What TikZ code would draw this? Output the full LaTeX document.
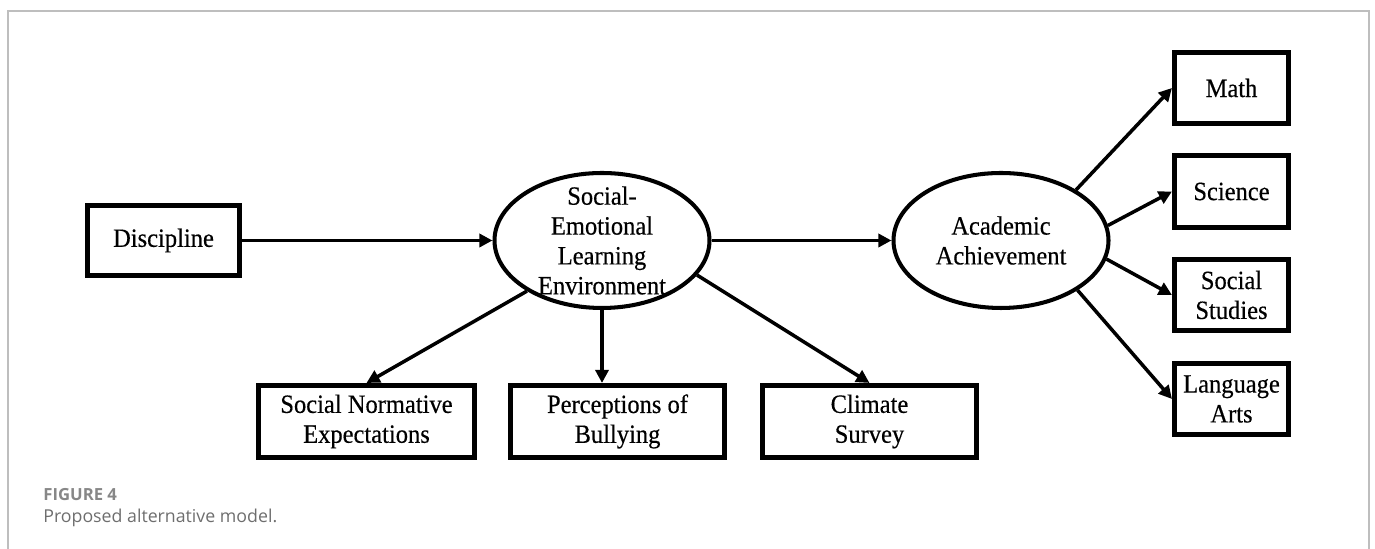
\documentclass[tikz,border=0pt]{standalone}
\usepackage{fontspec}
\setmainfont{Liberation Serif}[FakeStretch=0.93, FakeBold=0.4]
\newfontfamily\captionfont{Open Sans}
\usepackage{xcolor}
\usepackage{tikz}
\usetikzlibrary{shapes,arrows,positioning,calc,arrows.meta}

\definecolor{framegray}{RGB}{190,190,190}
\definecolor{labelgray}{RGB}{135,135,135}
\definecolor{capgray}{RGB}{110,110,110}

\tikzset{
    obsbox/.style={draw, rectangle, line width=2.6pt, align=center, inner sep=2pt},
    latent/.style={draw, ellipse, line width=2.3pt, minimum width=4.3cm, minimum height=2.7cm, inner sep=0pt},
    link/.style={line width=2pt, -{Triangle[length=7.5pt, width=7.5pt]}}
}

\begin{document}
\begin{tikzpicture}[font=\fontsize{15}{17}\selectfont]
    \useasboundingbox (0,0) rectangle (27.5,10.98);
    % Frame
    \draw[framegray, line width=0.8pt] (0.16,0) -- (0.16,10.76) -- (27.38,10.76) -- (27.38,0);

    % Predictor
    \node[obsbox, minimum width=3.05cm, minimum height=1.39cm] (disc) at (3.27,6.17) {Discipline};

    % Latent variables
    \node[latent] (sel) at (12.04,6.17) {};
    \node[align=center] (sel-txt) at (sel) {Social-\\Emotional\\Learning\\Environment};
    \node[latent] (aa) at (20.02,6.17) {};
    \node[align=center] (aa-txt) at (aa) {Academic\\Achievement};

    % Indicators of the learning environment
    \node[obsbox, minimum width=4.33cm, minimum height=1.45cm] (sne) at (7.33,2.55) {Social Normative\\Expectations};
    \node[obsbox, minimum width=4.29cm, minimum height=1.45cm] (bully) at (12.35,2.55) {Perceptions of\\Bullying};
    \node[obsbox, minimum width=4.29cm, minimum height=1.45cm] (clim) at (17.39,2.55) {Climate\\Survey};

    % Indicators of achievement
    \node[obsbox, minimum width=2.29cm, minimum height=1.43cm] (math) at (24.63,9.22) {Math};
    \node[obsbox, minimum width=2.29cm, minimum height=1.43cm] (sci) at (24.63,7.15) {Science};
    \node[obsbox, minimum width=2.29cm, minimum height=1.43cm] (soc) at (24.63,5.08) {Social\\Studies};
    \node[obsbox, minimum width=2.29cm, minimum height=1.43cm] (lang) at (24.63,3.00) {Language\\Arts};

    % Structural paths
    \draw[link] (disc) -- (sel);
    \draw[link] (sel) -- (aa);

    % Loadings
    \draw[link] (sel.-146) -- (sne.north);
    \draw[link] (sel.south) -- (sel.south |- bully.north);
    \draw[link] (sel.-20) -- (clim.north);
    \draw[link] (aa.34) -- (math.west);
    \draw[link] (aa.8) -- (sci.west);
    \draw[link] (aa.-10) -- (soc.west);
    \draw[link] (aa.-33) -- (lang.west);

    % Caption
    \node[anchor=west, inner sep=0pt, text=labelgray, font=\captionfont\bfseries\fontsize{9.5}{11}\selectfont] (fignum) at (0.86,1.08) {FIGURE 4};
    \node[anchor=west, inner sep=0pt, text=capgray, font=\captionfont\fontsize{10.1}{12}\selectfont] (figcap) at (0.86,0.62) {Proposed alternative model.};
\end{tikzpicture}
\end{document}
